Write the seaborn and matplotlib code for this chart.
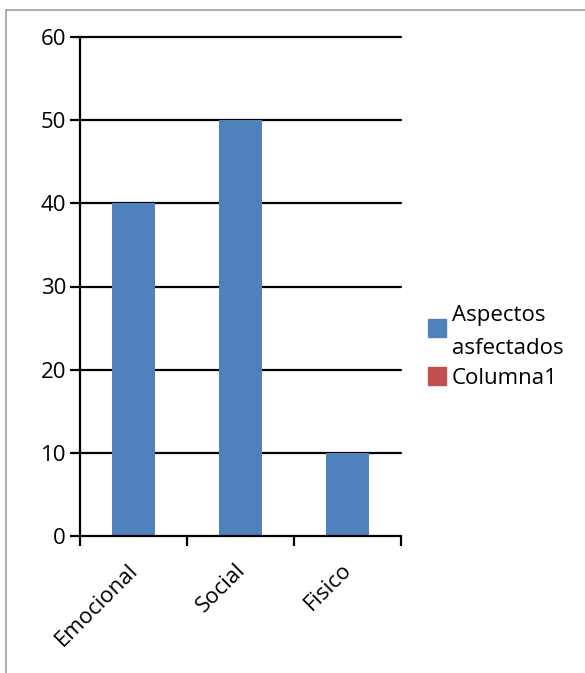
import matplotlib
matplotlib.use("Agg")
import matplotlib.pyplot as plt
import matplotlib.patches as mpatches
import matplotlib.lines as mlines
import matplotlib.transforms as mtransforms
from matplotlib.ticker import FixedLocator
import seaborn as sns
import pandas as pd

categories = ["Emocional", "Social", "Fisico"]
aspectos = [40, 50, 10]
series_names = ["Aspectos", "asfectados", "Columna1"]
yticks = [0, 10, 20, 30, 40, 50, 60]

BLUE = "#4F81BD"
RED = "#C0504D"
FS = 16
W, H = 585, 673

sns.set_theme(style="white")
plt.rcParams["font.family"] = ["Open Sans", "DejaVu Sans"]
plt.rcParams["text.color"] = "black"
plt.rcParams["xtick.color"] = "black"
plt.rcParams["ytick.color"] = "black"

fig = plt.figure(figsize=(W / 100, H / 100), dpi=100)
ax = fig.add_axes([80 / W, 1 - 536 / H, (401 - 80) / W, (536 - 37) / H])

df = pd.DataFrame({"cat": categories, "val": aspectos})
sns.barplot(data=df, x="cat", y="val", color=BLUE, width=0.4,
            saturation=1, ax=ax, edgecolor="none", zorder=3)

ax.set_xlim(-0.5, len(categories) - 0.5)
ax.set_ylim(0, 60)
ax.set_yticks(yticks)
ax.set_xlabel("")
ax.set_ylabel("")

# horizontal gridlines
for v in yticks[1:]:
    ax.axhline(v, color="black", lw=1.6, zorder=1, clip_on=False)

for s in ["top", "right"]:
    ax.spines[s].set_visible(False)
for s in ["left", "bottom"]:
    ax.spines[s].set_color("black")
    ax.spines[s].set_linewidth(1.6)
    ax.spines[s].set_zorder(4)

ax.tick_params(axis="y", which="major", direction="out", length=7,
               width=1.6, color="black", labelsize=FS, labelcolor="black",
               pad=3, left=True)
ax.tick_params(axis="x", which="major", length=0, labelsize=FS,
               labelcolor="black", pad=17)
ax.xaxis.set_minor_locator(FixedLocator([-0.5, 0.5, 1.5, 2.5]))
ax.tick_params(axis="x", which="minor", direction="out", length=7,
               width=1.6, color="black", bottom=True)
shift = mtransforms.ScaledTranslation(-6 / 100, 0, fig.dpi_scale_trans)
for lbl in ax.get_xticklabels():
    lbl.set_rotation(45)
    lbl.set_ha("right")
    lbl.set_rotation_mode("anchor")
    lbl.set_transform(lbl.get_transform() + shift)

# legend: colour keys and series names
def fx(px):
    return px / W

def fy(py):
    return 1 - py / H

fig.add_artist(mpatches.Rectangle((fx(428), fy(337)), 18 / W, 18 / H,
                                  transform=fig.transFigure, color=BLUE))
fig.add_artist(mpatches.Rectangle((fx(428), fy(385)), 18 / W, 18 / H,
                                  transform=fig.transFigure, color=RED))
for name, base in zip(series_names, [321, 354, 384]):
    fig.text(fx(452), fy(base), name, fontsize=FS, color="black",
             va="baseline", ha="left")

# outer frame: top and left edges
fig.add_artist(mlines.Line2D([fx(6), 1.0], [fy(10), fy(10)],
                             transform=fig.transFigure, color="#A0A0A0",
                             lw=1.2))
fig.add_artist(mlines.Line2D([fx(6), fx(6)], [fy(10), 0.0],
                             transform=fig.transFigure, color="#A0A0A0",
                             lw=1.2))

fig.savefig("out.png", dpi=100)
